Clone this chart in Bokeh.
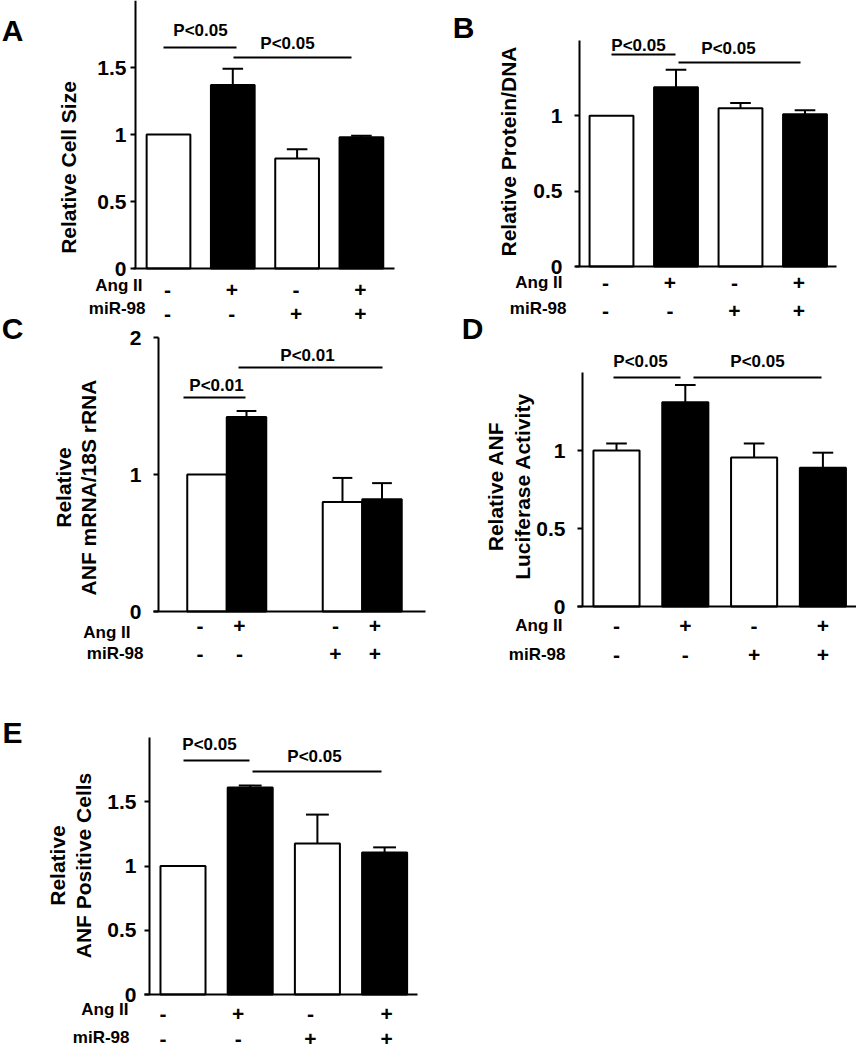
import numpy as np
from bokeh.plotting import figure
from bokeh.models import Range1d, FixedTicker, Label, LinearAxis
from bokeh.embed import file_html
from bokeh.resources import INLINE

FONT = "Liberation Sans"

# ---------------- data ----------------
ang_ii = ["-", "+", "-", "+"]
mir_98 = ["-", "-", "+", "+"]
bar_fill = ["white", "black", "white", "black"]

a_vals = [1.00, 1.37, 0.82, 0.98]
a_err = [0.00, 0.12, 0.07, 0.01]
a_ticks = [0, 0.5, 1, 1.5]
a_ylabel = ["Relative Cell Size"]
a_sig = ["P<0.05", "P<0.05"]

b_vals = [1.00, 1.19, 1.05, 1.01]
b_err = [0.00, 0.115, 0.035, 0.026]
b_ticks = [0, 0.5, 1]
b_ylabel = ["Relative Protein/DNA"]
b_sig = ["P<0.05", "P<0.05"]

c_vals = [1.00, 1.42, 0.80, 0.82]
c_err = [0.00, 0.044, 0.175, 0.117]
c_ticks = [0, 1, 2]
c_ylabel = ["Relative", "ANF mRNA/18S rRNA"]
c_sig = ["P<0.01", "P<0.01"]

d_vals = [1.00, 1.31, 0.955, 0.89]
d_err = [0.045, 0.11, 0.09, 0.096]
d_ticks = [0, 0.5, 1]
d_ylabel = ["Relative ANF", "Luciferase Activity"]
d_sig = ["P<0.05", "P<0.05"]

e_vals = [1.00, 1.61, 1.175, 1.105]
e_err = [0.00, 0.016, 0.225, 0.04]
e_ticks = [0, 0.5, 1, 1.5]
e_ylabel = ["Relative", "ANF Positive Cells"]
e_sig = ["P<0.05", "P<0.05"]

# ---------------- page canvas ----------------
PW, PH = 856, 1050
p = figure(width=PW, height=PH, x_range=Range1d(0, PW), y_range=Range1d(PH, 0),
           x_axis_type=None, y_axis_type=None, output_backend="svg",
           toolbar_location=None, title=None, min_border=0)
p.outline_line_color = None
p.background_fill_color = "white"
p.border_fill_color = "white"
p.grid.visible = False


def lab(px, py, text, size, align="center", angle=0.0):
    p.add_layout(Label(x=px, y=py, text=text, angle=angle, text_align=align,
                       text_baseline="middle", text_font=FONT,
                       text_font_style="bold", text_font_size=size,
                       text_color="black"))


def add_panel(name, letter, vals, errs, ticks, ylabel, sigs, lay):
    """lay holds layout only (page pixels): pixel of x=0, px per x unit,
    baseline pixel, px per y unit, axis extents and text anchor points."""
    cx0, ppx, by, ppy = lay["cx0"], lay["ppx"], lay["by"], lay["ppy"]

    def X(px):
        return (px - cx0) / ppx

    def Y(py):
        return (by - py) / ppy

    p.extra_x_ranges[name] = Range1d(X(0), X(PW))
    p.extra_y_ranges[name] = Range1d(Y(PH), Y(0))

    yax = LinearAxis(x_range_name=name, y_range_name=name,
                     fixed_location=X(lay["yaxis_px"]), bounds=(0, Y(lay["ytop"])),
                     ticker=FixedTicker(ticks=ticks, minor_ticks=[]),
                     major_label_overrides={t: "%g" % t for t in ticks})
    yax.axis_line_width = 2
    yax.axis_line_color = "black"
    yax.major_tick_line_width = 2
    yax.major_tick_out = 5
    yax.major_tick_in = 0
    yax.minor_tick_out = 0
    yax.minor_tick_in = 0
    yax.major_label_text_font = FONT
    yax.major_label_text_font_style = "bold"
    yax.major_label_text_font_size = "21px"
    yax.major_label_text_color = "black"
    yax.major_label_text_baseline = lay["tick_baseline"]
    yax.major_label_standoff = lay["standoff"]
    p.add_layout(yax, "left")

    xax = LinearAxis(x_range_name=name, y_range_name=name, fixed_location=0,
                     bounds=(X(lay["xaxis_px"][0]), X(lay["xaxis_px"][1])),
                     ticker=FixedTicker(ticks=[]))
    xax.major_label_text_font_size = "0px"
    xax.axis_line_width = 2
    xax.axis_line_color = "black"
    xax.major_tick_out = 0
    xax.minor_tick_out = 0
    p.add_layout(xax, "below")

    xs = np.asarray(lay["xs"], dtype=float)
    vals = np.asarray(vals, dtype=float)
    errs = np.asarray(errs, dtype=float)

    p.vbar(x=xs, top=vals, bottom=0, width=lay["bw"], fill_color=bar_fill,
           line_color="black", line_width=2, x_range_name=name, y_range_name=name)

    has = errs > 0
    ex, ev, et = xs[has], vals[has], (vals + errs)[has]
    cap = lay["cap"]
    p.segment(x0=ex, y0=ev, x1=ex, y1=et, line_color="black", line_width=2,
              x_range_name=name, y_range_name=name)
    p.segment(x0=ex - cap / 2, y0=et, x1=ex + cap / 2, y1=et, line_color="black",
              line_width=2, x_range_name=name, y_range_name=name)

    for txt, (lx0, lx1, ly, tx, ty) in zip(sigs, lay["sig"]):
        p.segment(x0=[lx0], y0=[ly], x1=[lx1], y1=[ly], line_color="black",
                  line_width=2)
        lab(tx, ty, txt, "17px")

    for txt, lx in zip(ylabel, lay["ylab_x"]):
        lab(lx, lay["ylab_y"], txt, "21px", angle=np.pi / 2)

    lab(lay["letter"][0], lay["letter"][1], letter, "30px")

    (ax_, ay_), (mx_, my_) = lay["rowlab"]
    lab(ax_, ay_, "Ang II", "17px", align="right")
    lab(mx_, my_, "miR-98", "17px", align="right")
    dxs = lay["sign_dx"]
    if np.isscalar(dxs):
        dxs = [dxs] * len(xs)
    for signs, sy in ((ang_ii, lay["sign_y"][0]), (mir_98, lay["sign_y"][1])):
        for s, xv, dx in zip(signs, xs, dxs):
            lab(cx0 + xv * ppx + dx, sy, s, "21px")


xs4 = [0, 1, 2, 3]
grp = 3.43
xs_c = [0, 1, grp, grp + 1]

lay_a = dict(cx0=168, ppx=64.3, by=268, ppy=134,
             yaxis_px=135, ytop=0, xaxis_px=(133, 394), standoff=4,
             tick_baseline="middle",
             xs=xs4, bw=0.68, cap=0.32,
             sig=[(163, 236, 47, 200, 30), (233, 351, 57, 287, 43)],
             ylab_x=[68], ylab_y=167, letter=(12, 30),
             rowlab=((142, 285), (145, 308)), sign_y=(289, 313), sign_dx=-1)

lay_b = dict(cx0=611, ppx=64.5, by=266, ppy=150.7,
             yaxis_px=579, ytop=40, xaxis_px=(575, 836), standoff=12,
             tick_baseline="alphabetic",
             xs=xs4, bw=0.68, cap=0.32,
             sig=[(611, 675, 54, 638, 45), (678, 800, 62, 728, 48)],
             ylab_x=[508], ylab_y=151, letter=(463, 27),
             rowlab=((562, 282), (566, 308)), sign_y=(282, 310), sign_dx=-6)

lay_c = dict(cx0=206.5, ppx=39.5, by=611, ppy=137,
             yaxis_px=158, ytop=337, xaxis_px=(153, 425), standoff=12,
             tick_baseline="middle",
             xs=xs_c, bw=1.0, cap=0.5,
             sig=[(183, 245, 397, 216, 385), (238, 382, 367, 307, 355)],
             ylab_x=[63, 88], ylab_y=487, letter=(12, 328),
             rowlab=((130, 632), (143, 653)), sign_y=(625, 653), sign_dx=-7)

lay_d = dict(cx0=616, ppx=68.8, by=606, ppy=156,
             yaxis_px=582, ytop=372, xaxis_px=(577, 856), standoff=12,
             tick_baseline="alphabetic",
             xs=xs4, bw=0.67, cap=0.3,
             sig=[(613, 680, 377, 640, 361), (693, 821, 377, 757, 361)],
             ylab_x=[495, 522], ylab_y=486, letter=(472, 328),
             rowlab=((562, 625), (565, 654)), sign_y=(625, 654), sign_dx=0)

lay_e = dict(cx0=182.5, ppx=67.2, by=994, ppy=128.5,
             yaxis_px=149, ytop=737, xaxis_px=(144, 417), standoff=8,
             tick_baseline="alphabetic",
             xs=xs4, bw=0.67, cap=0.34,
             sig=[(183, 249, 760, 209, 744), (252, 381, 771, 314, 756)],
             ylab_x=[57, 83], ylab_y=865, letter=(12, 732),
             rowlab=((128, 1009), (129, 1037)), sign_y=(1013, 1038),
             sign_dx=[-20, -12, -7, 2])

add_panel("A", "A", a_vals, a_err, a_ticks, a_ylabel, a_sig, lay_a)
add_panel("B", "B", b_vals, b_err, b_ticks, b_ylabel, b_sig, lay_b)
add_panel("C", "C", c_vals, c_err, c_ticks, c_ylabel, c_sig, lay_c)
add_panel("D", "D", d_vals, d_err, d_ticks, d_ylabel, d_sig, lay_d)
add_panel("E", "E", e_vals, e_err, e_ticks, e_ylabel, e_sig, lay_e)

open("out.html", "w").write(file_html(p, INLINE))
